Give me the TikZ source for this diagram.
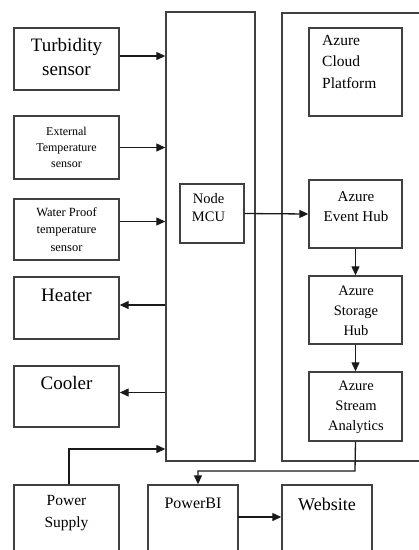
\documentclass[tikz,border=0pt]{standalone}
\usepackage{fontspec}
\setmainfont{Liberation Serif}
\usetikzlibrary{arrows.meta,fit,calc}
\begin{document}
\begin{tikzpicture}[x=1pt,y=-1pt,
  box/.style={draw=black!75, line width=1.4pt, inner sep=0pt},
  lbl/.style={inner sep=0pt, align=center, text=black},
  conn/.style={draw=black!90, line width=1.3pt},
  arr/.style={conn, -{Triangle[length=9pt,width=8pt]}}]
\useasboundingbox (0,0) rectangle (419,550);
\clip (0,0) rectangle (419,550);
% big boxes
\node[box, fit={(166,12)(255,461)}] (mcubig) {};
\node[box, fit={(282,13)(440,461)}] (azurebig) {};
% left boxes
\node[box, fit={(14,28)(119,90)}] (turb) {};
\node[lbl, font=\fontsize{19}{24}\selectfont] (turbt) at (66.5,57) {Turbidity\\sensor};
\node[box, fit={(14,116)(119,179)}] (ext) {};
\node[lbl, font=\fontsize{12}{16}\selectfont] (extt) at (66.5,147) {External\\Temperature\\sensor};
\node[box, fit={(14,199)(119,260)}] (water) {};
\node[lbl, font=\fontsize{12.5}{17.5}\selectfont] (watert) at (66.5,229.5) {Water Proof\\temperature\\sensor};
\node[box, fit={(14,277)(119,339)}] (heater) {};
\node[lbl, font=\fontsize{19}{24}\selectfont] (heatert) at (66.5,295) {Heater};
\node[box, fit={(14,366)(119,427)}] (cooler) {};
\node[lbl, font=\fontsize{19}{24}\selectfont] (coolert) at (66.5,383) {Cooler};
\node[box, fit={(14,485)(119,560)}] (power) {};
\node[lbl, font=\fontsize{15.5}{22}\selectfont] (powert) at (66.5,513) {Power\\Supply};
% node mcu
\node[box, fit={(180,184)(244,243)}] (mcu) {};
\node[lbl, font=\fontsize{14.5}{18}\selectfont] (mcut) at (208.5,208) {Node\\MCU};
% azure
\node[box, fit={(309,28)(402,116)}] (cloud) {};
\node[lbl, align=left, anchor=north west, font=\fontsize{15.5}{21.5}\selectfont] (cloudt) at (322,35) {Azure\\Cloud\\Platform};
\node[box, fit={(309,180)(402,248)}] (event) {};
\node[lbl, font=\fontsize{15}{20}\selectfont] (eventt) at (356,207) {Azure\\Event Hub};
\node[box, fit={(309,276)(402,344)}] (storage) {};
\node[lbl, font=\fontsize{14.5}{20}\selectfont] (storaget) at (356,311) {Azure\\Storage\\Hub};
\node[box, fit={(309,372)(402,441)}] (stream) {};
\node[lbl, font=\fontsize{14.5}{20}\selectfont] (streamt) at (356,407) {Azure\\Stream\\Analytics};
% bottom
\node[box, fit={(148,485)(238,560)}] (powerbi) {};
\node[lbl, font=\fontsize{16}{20}\selectfont] (powerbit) at (193,503) {PowerBI};
\node[box, fit={(282,485)(372,560)}] (website) {};
\node[lbl, font=\fontsize{18}{22}\selectfont] (websitet) at (327,504) {Website};
% connectors
\draw[arr] ([yshift=3pt]turb.east) -- ([yshift=3pt]turb.east -| mcubig.west);
\draw[arr] (ext.east) -- (ext.east -| mcubig.west);
\draw[arr] ([yshift=8pt]water.east) -- ([yshift=8pt]water.east -| mcubig.west);
\draw[arr] ([yshift=3pt]heater.east -| mcubig.west) -- ([yshift=3pt]heater.east);
\draw[arr] ([yshift=4pt]cooler.east -| mcubig.west) -- ([yshift=4pt]cooler.east);
\coordinate (pw) at (69,449);
\draw[arr] (power.north -| pw) -- (pw) -- (pw -| mcubig.west);
\draw[arr] (mcu.east) -- (event.west);
\draw[arr] (event.south) -- (storage.north);
\draw[arr] (storage.south) -- (stream.north);
\coordinate (sb) at (355,471);
\coordinate (pb) at (198,471);
\draw[arr] (stream.south) -- (sb) -- (pb) -- (pb |- powerbi.north);
\coordinate (pbw) at (238,517);
\draw[arr] (pbw) -- (pbw -| website.west);
\end{tikzpicture}
\end{document}
